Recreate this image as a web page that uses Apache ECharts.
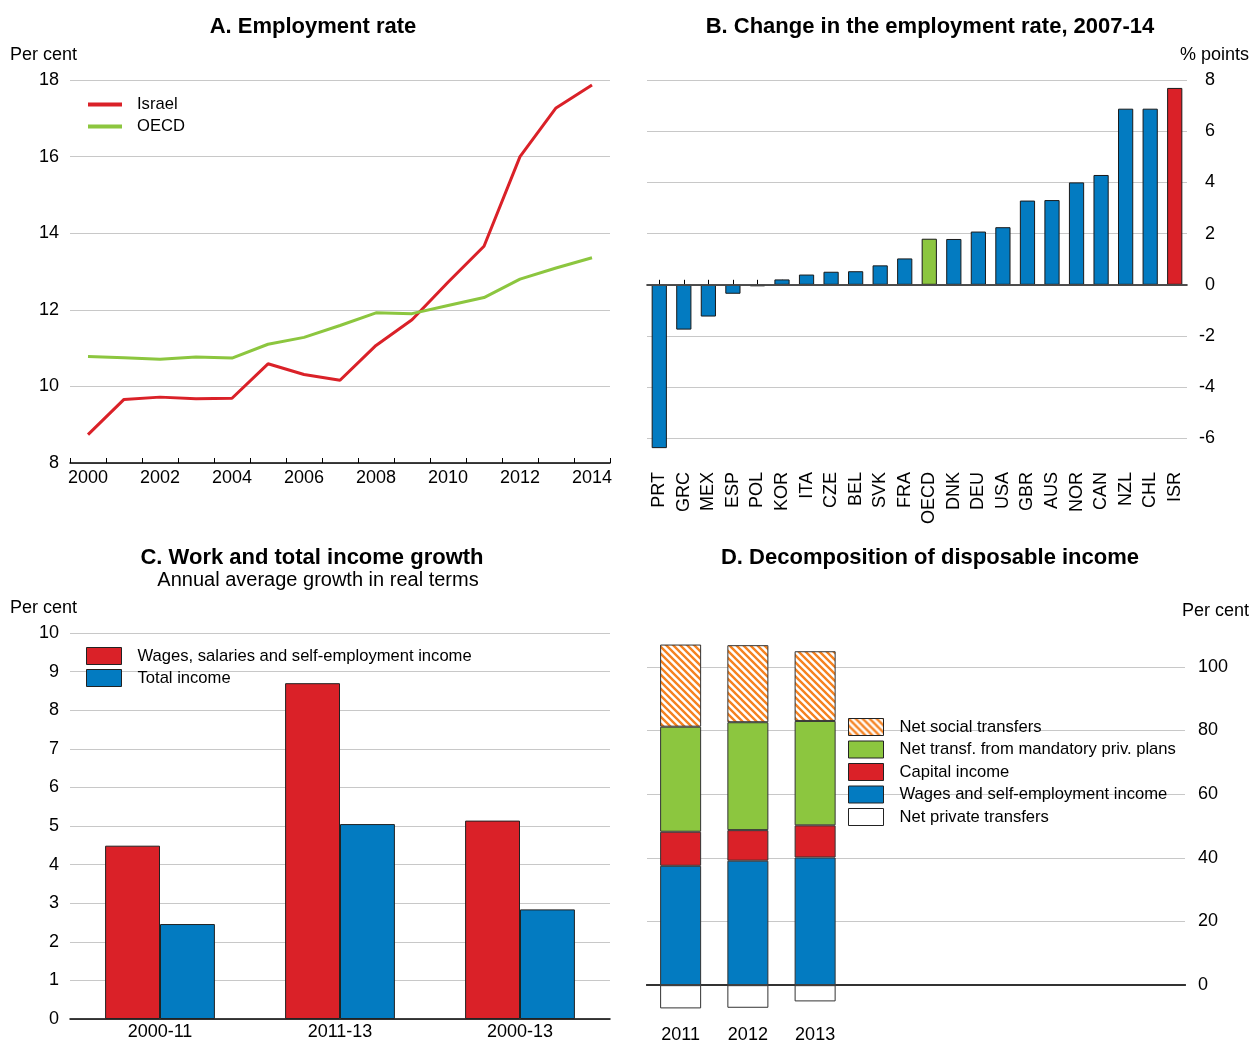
<!DOCTYPE html>
<html>
<head>
<meta charset="utf-8">
<script src="https://cdn.jsdelivr.net/npm/echarts@6/dist/echarts.min.js"></script>
<style>
  html, body { margin: 0; padding: 0; background: #fff; }
  #chart { width: 1251px; height: 1044px; }
</style>
</head>
<body>
<div id="chart"></div>
<script>
// A. Employment rate, per cent
const years = ['2000','2001','2002','2003','2004','2005','2006','2007','2008','2009','2010','2011','2012','2013','2014'];
const israelRate = [8.74, 9.66, 9.72, 9.68, 9.69, 10.59, 10.31, 10.16, 11.07, 11.74, 12.72, 13.66, 16.0, 17.27, 17.87];
const oecdRate   = [10.78, 10.75, 10.71, 10.77, 10.74, 11.10, 11.28, 11.59, 11.92, 11.90, 12.11, 12.32, 12.80, 13.09, 13.36];

// B. Change in the employment rate, 2007-14, % points
const countries = ['PRT','GRC','MEX','ESP','POL','KOR','ITA','CZE','BEL','SVK','FRA','OECD','DNK','DEU','USA','GBR','AUS','NOR','CAN','NZL','CHL','ISR'];
const empChange = [-6.38, -1.75, -1.24, -0.35, -0.06, 0.21, 0.40, 0.51, 0.53, 0.76, 1.03, 1.80, 1.79, 2.08, 2.25, 3.29, 3.31, 4.00, 4.29, 6.88, 6.88, 7.69];

// C. Work and total income growth, annual average in real terms
const periods = ['2000-11', '2011-13', '2000-13'];
const wagesGrowth = [4.49, 8.70, 5.14];
const totalGrowth = [2.46, 5.05, 2.84];

// D. Decomposition of disposable income, per cent
const incomeYears = ['2011', '2012', '2013'];
const wagesShare     = [37.5, 39.1, 40.1];
const capitalShare   = [10.7, 9.6, 10.1];
const mandatoryShare = [33.0, 33.9, 32.8];
const socialShare    = [25.8, 24.2, 21.9];
const privateShare   = [-7.3, -7.1, -5.1];

const RED = '#da2128', BLUE = '#037bc1', GREEN = '#8cc63f', ORANGE = '#f58220';
const GRIDC = '#c8c8c8';
const FONT = "'Liberation Sans', Arial, sans-serif";

// diagonal orange hatch for the social transfers segment
function hatch() {
  const s = 7;
  const c = document.createElement('canvas');
  c.width = s; c.height = s;
  const ctx = c.getContext('2d');
  ctx.fillStyle = '#fff';
  ctx.fillRect(0, 0, s, s);
  ctx.strokeStyle = ORANGE;
  ctx.lineWidth = 2.4;
  ctx.beginPath();
  for (const k of [-s, 0, s]) {
    ctx.moveTo(k - 2, -2);
    ctx.lineTo(k + s + 2, s + 2);
  }
  ctx.stroke();
  return { image: c, repeat: 'repeat' };
}

// category slots for panel D (three years, remaining width left empty)
const incomeSlots = incomeYears.concat(['', '', '', '', '']);

const txt = (x, y, text, opts) => ({
  type: 'text', x: x, y: y, silent: true,
  style: Object.assign({
    text: text, fill: '#000', font: '18px ' + FONT,
    align: 'left', verticalAlign: 'middle', textAlign: 'left', textVerticalAlign: 'middle'
  }, opts || {})
});
const title = (x, y, text) => txt(x, y, text, { font: 'bold 22px ' + FONT, align: 'center', textAlign: 'center' });

const chart = echarts.init(document.getElementById('chart'), null, { renderer: 'canvas' });

const axisLabelBase = { color: '#000', fontSize: 18, fontFamily: FONT };
const legendText = (gap) => ({ fontSize: 16.6, color: '#000', fontFamily: FONT, padding: [0, 0, 0, gap] });

chart.setOption({
  animation: false,
  textStyle: { fontFamily: FONT, color: '#000' },
  graphic: [
    title(313, 27, 'A. Employment rate'),
    title(930, 27, 'B. Change in the employment rate, 2007-14'),
    title(312, 558, 'C. Work and total income growth'),
    txt(318, 580, 'Annual average growth in real terms', { font: '20px ' + FONT, align: 'center', textAlign: 'center' }),
    title(930, 558, 'D. Decomposition of disposable income'),
    txt(10, 55, 'Per cent'),
    txt(1249, 55, '% points', { align: 'right', textAlign: 'right' }),
    txt(10, 608, 'Per cent'),
    txt(1249, 611, 'Per cent', { align: 'right', textAlign: 'right' })
  ],
  legend: [
    {
      left: 88, top: 96, padding: 0, orient: 'vertical', icon: 'rect',
      itemWidth: 34, itemHeight: 4, itemGap: 5,
      textStyle: legendText(10),
      data: ['Israel', 'OECD']
    },
    {
      left: 86, top: 647, padding: 0, orient: 'vertical', icon: 'rect',
      itemWidth: 35, itemHeight: 17, itemGap: 4,
      textStyle: legendText(11),
      itemStyle: { borderColor: '#222', borderWidth: 1 },
      data: ['Wages, salaries and self-employment income', 'Total income']
    },
    {
      left: 848, top: 718, padding: 0, orient: 'vertical', icon: 'rect',
      itemWidth: 35, itemHeight: 17, itemGap: 4.5,
      textStyle: legendText(11),
      itemStyle: { borderColor: '#222', borderWidth: 1 },
      data: ['Net social transfers', 'Net transf. from mandatory priv. plans', 'Capital income',
             'Wages and self-employment income', 'Net private transfers']
    }
  ],
  grid: [
    { left: 70, top: 80, width: 540, height: 383 },
    { left: 647, top: 80, width: 540, height: 384 },
    { left: 70, top: 633, width: 540, height: 386 },
    { left: 647, top: 635, width: 538, height: 383 }
  ],
  xAxis: [
    {
      gridIndex: 0, type: 'category', data: years, boundaryGap: true,
      axisLine: { lineStyle: { color: '#000', width: 1.5 } },
      axisTick: { show: true, inside: true, length: 5, interval: 0, lineStyle: { color: '#000' } },
      axisLabel: Object.assign({ interval: 1, margin: 6 }, axisLabelBase)
    },
    {
      gridIndex: 1, type: 'category', data: countries,
      axisLine: { lineStyle: { color: '#000', width: 1.5 } },
      axisTick: { show: true, inside: true, length: 5, alignWithLabel: true, lineStyle: { color: '#000' } },
      axisLabel: Object.assign({ interval: 0, rotate: 90, margin: 8 }, axisLabelBase)
    },
    {
      gridIndex: 2, type: 'category', data: periods,
      axisLine: { lineStyle: { color: '#000', width: 1.5 } },
      axisTick: { show: false },
      axisLabel: Object.assign({ margin: 4 }, axisLabelBase)
    },
    {
      gridIndex: 3, type: 'category', data: incomeSlots,
      axisLine: { lineStyle: { color: '#000', width: 2 } },
      axisTick: { show: false },
      axisLabel: Object.assign({ interval: 0, margin: 9 }, axisLabelBase)
    }
  ],
  yAxis: [
    {
      gridIndex: 0, type: 'value', min: 8, max: 18, interval: 2,
      axisLine: { show: false }, axisTick: { show: false },
      splitLine: { lineStyle: { color: GRIDC, width: 1 } },
      axisLabel: Object.assign({ margin: 11 }, axisLabelBase)
    },
    {
      gridIndex: 1, type: 'value', position: 'right', min: -7, max: 8, interval: 1,
      axisLine: { show: false }, axisTick: { show: false },
      splitLine: { lineStyle: { color: ['rgba(0,0,0,0)', GRIDC], width: 1 } },
      axisLabel: Object.assign({
        margin: 28, align: 'right',
        formatter: v => (Math.round(v) % 2 === 0 ? String(v) : '')
      }, axisLabelBase)
    },
    {
      gridIndex: 2, type: 'value', min: 0, max: 10, interval: 1,
      axisLine: { show: false }, axisTick: { show: false },
      splitLine: { lineStyle: { color: GRIDC, width: 1 } },
      axisLabel: Object.assign({ margin: 11 }, axisLabelBase)
    },
    {
      gridIndex: 3, type: 'value', position: 'right', min: -10, max: 110, interval: 10,
      axisLine: { show: false }, axisTick: { show: false },
      splitLine: { lineStyle: { color: ['rgba(0,0,0,0)', GRIDC], width: 1 } },
      axisLabel: Object.assign({
        margin: 13,
        formatter: v => (v >= 0 && v <= 100 && v % 20 === 0 ? String(v) : '')
      }, axisLabelBase)
    }
  ],
  series: [
    {
      name: 'Israel', type: 'line', xAxisIndex: 0, yAxisIndex: 0, data: israelRate,
      symbol: 'none', lineStyle: { color: RED, width: 3 }, itemStyle: { color: RED }
    },
    {
      name: 'OECD', type: 'line', xAxisIndex: 0, yAxisIndex: 0, data: oecdRate,
      symbol: 'none', lineStyle: { color: GREEN, width: 3 }, itemStyle: { color: GREEN }
    },
    {
      name: 'Change', type: 'bar', xAxisIndex: 1, yAxisIndex: 1, barWidth: '62%',
      data: empChange.map((v, i) => ({
        value: v,
        itemStyle: { color: countries[i] === 'ISR' ? RED : (countries[i] === 'OECD' ? GREEN : BLUE) }
      })),
      itemStyle: { borderColor: '#1a1a1a', borderWidth: 1 },
      markLine: {
        silent: true, symbol: 'none', label: { show: false },
        lineStyle: { color: '#555', width: 1.5, type: 'solid' },
        data: [{ yAxis: 0 }]
      }
    },
    {
      name: 'Wages, salaries and self-employment income', type: 'bar', xAxisIndex: 2, yAxisIndex: 2,
      data: wagesGrowth, barGap: 0, barCategoryGap: '39%',
      itemStyle: { color: RED, borderColor: '#222', borderWidth: 1 }
    },
    {
      name: 'Total income', type: 'bar', xAxisIndex: 2, yAxisIndex: 2,
      data: totalGrowth, barGap: 0, barCategoryGap: '39%',
      itemStyle: { color: BLUE, borderColor: '#222', borderWidth: 1 }
    },
    {
      name: 'Wages and self-employment income', type: 'bar', stack: 'inc', xAxisIndex: 3, yAxisIndex: 3,
      data: wagesShare, barWidth: '61%',
      itemStyle: { color: BLUE, borderColor: '#333', borderWidth: 1 },
      markLine: {
        silent: true, symbol: 'none', label: { show: false },
        lineStyle: { color: '#444', width: 1.5, type: 'solid' },
        data: [{ yAxis: 0 }]
      }
    },
    {
      name: 'Capital income', type: 'bar', stack: 'inc', xAxisIndex: 3, yAxisIndex: 3,
      data: capitalShare, barWidth: '61%',
      itemStyle: { color: RED, borderColor: '#333', borderWidth: 1 }
    },
    {
      name: 'Net transf. from mandatory priv. plans', type: 'bar', stack: 'inc', xAxisIndex: 3, yAxisIndex: 3,
      data: mandatoryShare, barWidth: '61%',
      itemStyle: { color: GREEN, borderColor: '#333', borderWidth: 1 }
    },
    {
      name: 'Net social transfers', type: 'bar', stack: 'inc', xAxisIndex: 3, yAxisIndex: 3,
      data: socialShare, barWidth: '61%',
      itemStyle: { color: hatch(), borderColor: '#333', borderWidth: 1 }
    },
    {
      name: 'Net private transfers', type: 'bar', stack: 'inc', xAxisIndex: 3, yAxisIndex: 3,
      data: privateShare, barWidth: '61%',
      itemStyle: { color: '#fff', borderColor: '#333', borderWidth: 1 }
    }
  ]
});
</script>
</body>
</html>
